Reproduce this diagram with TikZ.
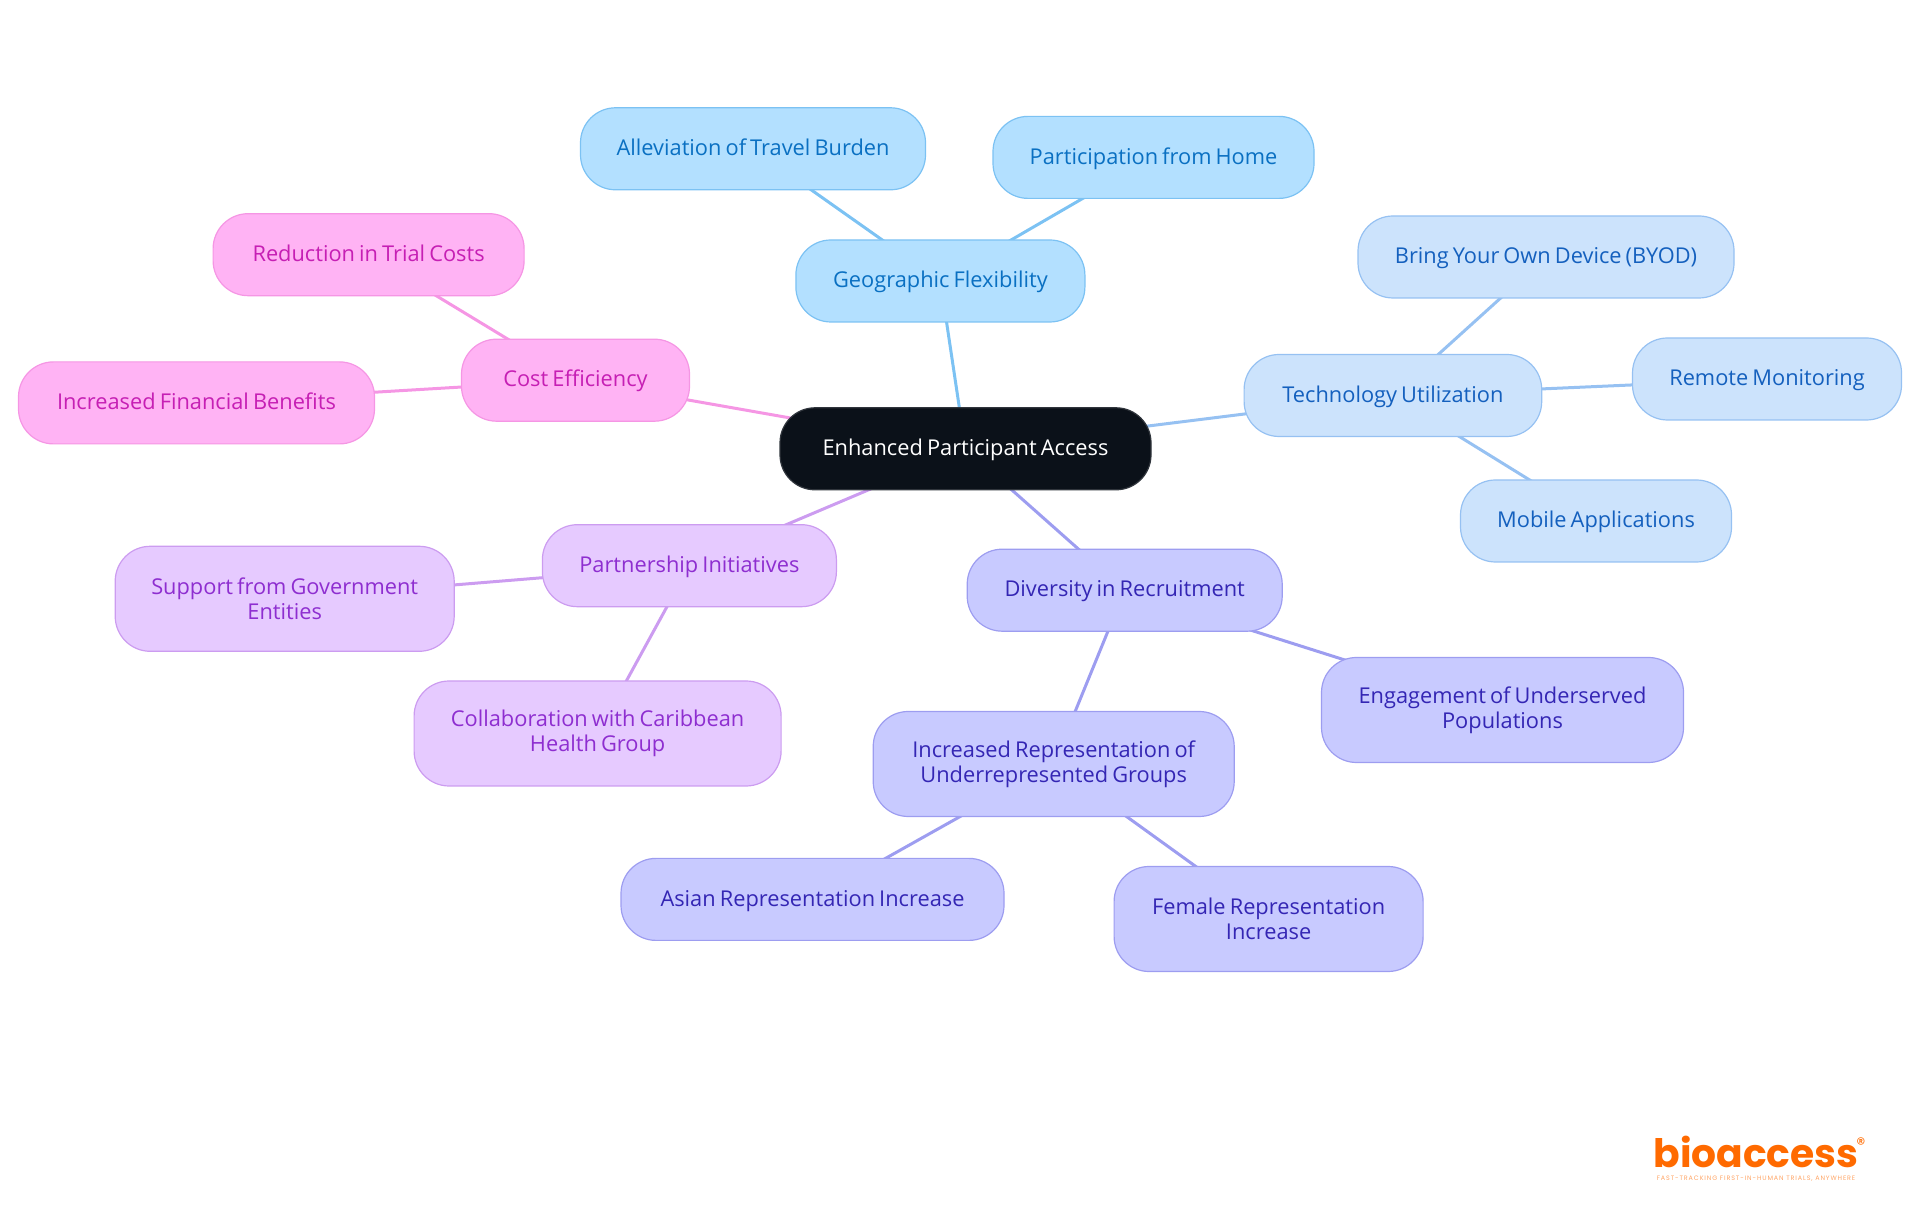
\documentclass[tikz,border=0pt]{standalone}
\usepackage{fontspec}
\setmainfont[WordSpace=0.72]{Open Sans}
\newfontfamily\logofont{Poppins}
\newfontfamily\tagfont[LetterSpace=14]{Poppins}
\usepackage{tikz}
\usetikzlibrary{backgrounds}

\definecolor{rootfill}{HTML}{0B1119}
\definecolor{geofill}{HTML}{B3E0FF}
\definecolor{geoline}{HTML}{7CC2F3}
\definecolor{geotext}{HTML}{0A70C2}
\definecolor{techfill}{HTML}{CCE3FC}
\definecolor{techline}{HTML}{96C1F2}
\definecolor{techtext}{HTML}{1460BE}
\definecolor{divfill}{HTML}{C8CAFF}
\definecolor{divline}{HTML}{9D9DF0}
\definecolor{divtext}{HTML}{3426B4}
\definecolor{partfill}{HTML}{E6CAFF}
\definecolor{partline}{HTML}{CC9CF0}
\definecolor{parttext}{HTML}{8E2ED0}
\definecolor{costfill}{HTML}{FFB3F4}
\definecolor{costline}{HTML}{F596E4}
\definecolor{costtext}{HTML}{C61FB4}
\definecolor{logoorange}{HTML}{FF6A00}

\begin{document}
\begin{tikzpicture}[semithick,
    box/.style={draw,rectangle,rounded corners=17.5pt,inner sep=0pt,align=center,
                minimum height=41pt,line width=0.6pt,text height=9.5pt,text depth=2.7pt,
                font=\fontsize{10.9}{12.4}\selectfont},
    tall/.style={minimum height=52.5pt,text height=,text depth=},
    rootbox/.style={box,fill=rootfill,draw=rootfill!85!white,text=white},
    geobox/.style={box,fill=geofill,draw=geoline,text=geotext},
    techbox/.style={box,fill=techfill,draw=techline,text=techtext},
    divbox/.style={box,fill=divfill,draw=divline,text=divtext},
    partbox/.style={box,fill=partfill,draw=partline,text=parttext},
    costbox/.style={box,fill=costfill,draw=costline,text=costtext},
    link/.style={line width=1.5pt}]
  \useasboundingbox (0,0) rectangle (960pt,607.5pt);

  \node[rootbox,minimum width=185.5pt] (root) at (482.75pt,383.1pt) {Enhanced Participant Access};

  \node[geobox,minimum width=144.5pt] (geo) [above of=root,node distance=83.9pt,xshift=-12.55pt] {Geographic Flexibility};
  \node[geobox,minimum width=172.5pt] (travel) [above of=geo,node distance=66.1pt,xshift=-93.7pt] {Alleviation of Travel Burden};
  \node[geobox,minimum width=160.5pt] (home) [above of=geo,node distance=61.8pt,xshift=106.55pt] {Participation from Home};

  \node[techbox,minimum width=148.8pt] (tech) [above of=root,node distance=26.65pt,xshift=213.7pt] {Technology Utilization};
  \node[techbox,minimum width=188pt] (byod) [above of=tech,node distance=69.25pt,xshift=76.55pt] {Bring Your Own Device (BYOD)};
  \node[techbox,minimum width=134.5pt] (remote) [above of=tech,node distance=8.25pt,xshift=187.05pt] {Remote Monitoring};
  \node[techbox,minimum width=135.5pt] (mobile) [below of=tech,node distance=62.75pt,xshift=101.55pt] {Mobile Applications};

  \node[divbox,minimum width=157.5pt] (div) [below of=root,node distance=70.7pt,xshift=79.6pt] {Diversity in Recruitment};
  \node[divbox,tall,minimum width=181pt] (engage) [below of=div,node distance=59.9pt,xshift=188.9pt] {Engagement of Underserved\\Populations};
  \node[divbox,tall,minimum width=180.5pt] (increp) [below of=div,node distance=86.9pt,xshift=-35.5pt] {Increased Representation of\\Underrepresented Groups};
  \node[divbox,minimum width=191.5pt] (asian) [below of=increp,node distance=67.7pt,xshift=-120.6pt] {Asian Representation Increase};
  \node[divbox,tall,minimum width=154.5pt] (female) [below of=increp,node distance=77.5pt,xshift=107.45pt] {Female Representation\\Increase};

  \node[partbox,minimum width=147pt] (partner) [below of=root,node distance=58.45pt,xshift=-138.05pt] {Partnership Initiatives};
  \node[partbox,tall,minimum width=169.5pt] (govern) [below of=partner,node distance=16.55pt,xshift=-202.35pt] {Support from Government\\Entities};
  \node[partbox,tall,minimum width=183.5pt] (carib) [below of=partner,node distance=83.9pt,xshift=-45.9pt] {Collaboration with Caribbean\\Health Group};

  \node[costbox,minimum width=114pt] (cost) [above of=root,node distance=34.3pt,xshift=-195pt] {Cost Efficiency};
  \node[costbox,minimum width=155.5pt] (reduce) [above of=cost,node distance=62.75pt,xshift=-103.45pt] {Reduction in Trial Costs};
  \node[costbox,minimum width=178pt] (finance) [below of=cost,node distance=11.35pt,xshift=-189.5pt] {Increased Financial Benefits};

  % logo
  \node[text=logoorange,inner sep=0pt,font=\logofont\bfseries\fontsize{19.6}{21}\selectfont] (logo) at (878pt,31.5pt) {bioaccess};
  \node[text=logoorange,inner sep=0pt,font=\logofont\fontsize{9}{10}\selectfont] (mark) at (930.5pt,35.5pt) {\textregistered};
  \node[text=logoorange!60,inner sep=0pt,font=\tagfont\fontsize{3.2}{4}\selectfont] (tagline) [below of=logo,node distance=13.2pt] {FAST-TRACKING FIRST-IN-HUMAN TRIALS, ANYWHERE};

  \begin{scope}[on background layer]
    \draw[link,geoline] (root.center) -- (geo.center);
    \draw[link,geoline] (geo.center) -- (travel.center);
    \draw[link,geoline] (geo.center) -- (home.center);
    \draw[link,techline] (root.center) -- (tech.center);
    \draw[link,techline] (tech.center) -- (byod.center);
    \draw[link,techline] (tech.center) -- (remote.center);
    \draw[link,techline] (tech.center) -- (mobile.center);
    \draw[link,divline] (root.center) -- (div.center);
    \draw[link,divline] (div.center) -- (engage.center);
    \draw[link,divline] (div.center) -- (increp.center);
    \draw[link,divline] (increp.center) -- (asian.center);
    \draw[link,divline] (increp.center) -- (female.center);
    \draw[link,partline] (root.center) -- (partner.center);
    \draw[link,partline] (partner.center) -- (govern.center);
    \draw[link,partline] (partner.center) -- (carib.center);
    \draw[link,costline] (root.center) -- (cost.center);
    \draw[link,costline] (cost.center) -- (reduce.center);
    \draw[link,costline] (cost.center) -- (finance.center);
  \end{scope}
\end{tikzpicture}
\end{document}
